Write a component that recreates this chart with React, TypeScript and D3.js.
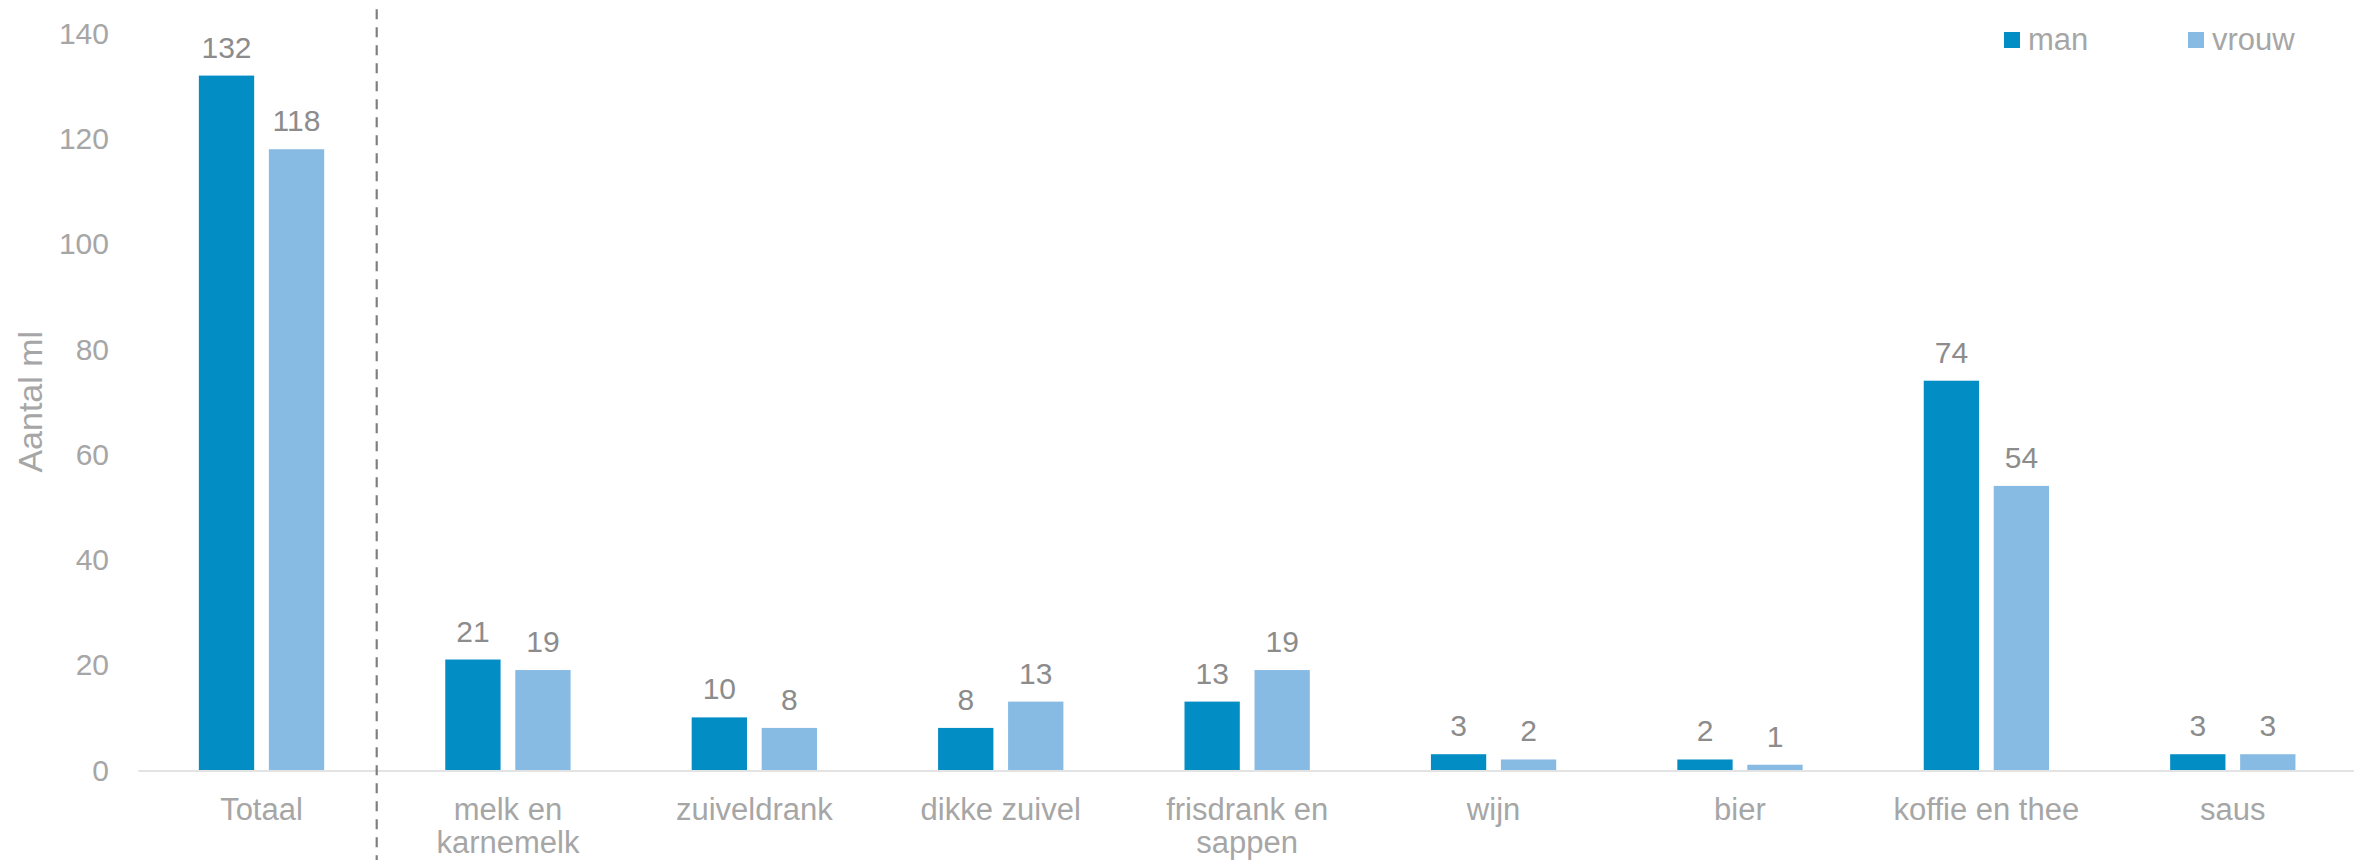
import React from "react";
import * as d3 from "d3";

const categories = [
  ["Totaal"],
  ["melk en", "karnemelk"],
  ["zuiveldrank"],
  ["dikke zuivel"],
  ["frisdrank en", "sappen"],
  ["wijn"],
  ["bier"],
  ["koffie en thee"],
  ["saus"],
];
const seriesNames = ["man", "vrouw"];
const manValues = [132, 21, 10, 8, 13, 3, 2, 74, 3];
const vrouwValues = [118, 19, 8, 13, 19, 2, 1, 54, 3];
const yTicks = [0, 20, 40, 60, 80, 100, 120, 140];
const yTitle = "Aantal ml";

const W = 2354;
const H = 860;
const colors: Record<string, string> = { man: "#038dc5", vrouw: "#87bbe4" };
const FONT = "'Liberation Sans', Arial, sans-serif";

export default function App() {
  const keys = categories.map((c) => c.join(" "));
  const x0 = d3.scaleBand<string>().domain(keys).range([138.3, 2356]).paddingInner(0).paddingOuter(0);
  const gw = x0.bandwidth();
  const x1 = d3
    .scaleBand<string>()
    .domain(seriesNames)
    .range([gw / 2 - 62.65, gw / 2 + 62.65])
    .paddingInner(0.21)
    .paddingOuter(0);
  const y = d3.scaleLinear().domain([0, 140]).range([770, 33.5]);

  const data = keys.map((k, i) => ({ key: k, lines: categories[i], values: { man: manValues[i], vrouw: vrouwValues[i] } as Record<string, number> }));
  const sepX = (x0(keys[1]) as number) - 8;

  return (
    <svg width={W} height={H} style={{ position: "absolute", left: 0, top: 0, background: "#fff" }} fontFamily={FONT}>
      {/* y ticks */}
      {yTicks.map((t) => (
        <text key={t} x={109} y={y(t)} dy="0.35em" textAnchor="end" fontSize={30} fill="#a6a6a6">
          {t}
        </text>
      ))}
      <text
        transform={`translate(30,${(y(0) + y(140)) / 2}) rotate(-90)`}
        textAnchor="middle"
        dy="0.35em"
        fontSize={34}
        fill="#a6a6a6"
      >
        {yTitle}
      </text>
      {/* bars */}
      {data.map((d) => (
        <g key={d.key} transform={`translate(${x0(d.key)},0)`}>
          {seriesNames.map((s) => (
            <g key={s}>
              <rect
                x={x1(s)}
                y={y(d.values[s])}
                width={x1.bandwidth()}
                height={y(0) - y(d.values[s])}
                fill={colors[s]}
              />
              <text
                x={(x1(s) as number) + x1.bandwidth() / 2}
                y={y(d.values[s]) - 18}
                textAnchor="middle"
                fontSize={30}
                fill="#8c8c8c"
              >
                {d.values[s]}
              </text>
            </g>
          ))}
          <text x={gw / 2} y={820} textAnchor="middle" fontSize={31} fill="#a6a6a6">
            {d.lines.map((l, i) => (
              <tspan key={i} x={gw / 2} dy={i === 0 ? 0 : 33}>
                {l}
              </tspan>
            ))}
          </text>
        </g>
      ))}
      {/* axis line */}
      <line x1={138.3} x2={W} y1={771} y2={771} stroke="#e3e3e3" strokeWidth={2} />
      {/* separator */}
      <line x1={sepX} x2={sepX} y1={9.3} y2={H} stroke="#7f7f7f" strokeWidth={2.2} strokeDasharray="10,8" />
      {/* legend */}
      {seriesNames.map((s, i) => {
        const lx = 2004 + i * 184;
        return (
          <g key={s}>
            <rect x={lx} y={32} width={16} height={16} fill={colors[s]} />
            <text x={lx + 24} y={50} fontSize={31} fill="#a6a6a6">
              {s}
            </text>
          </g>
        );
      })}
    </svg>
  );
}
